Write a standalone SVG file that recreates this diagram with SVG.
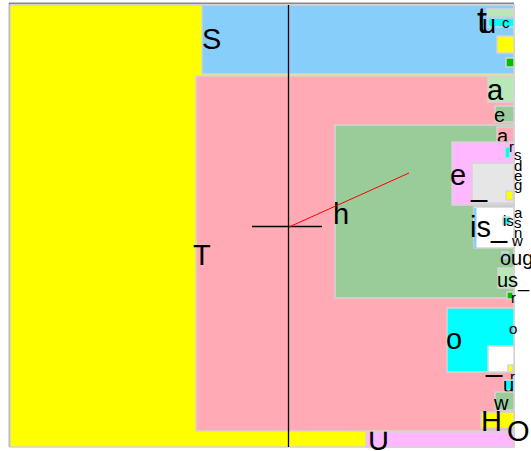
<svg xmlns="http://www.w3.org/2000/svg" width="531" height="451" viewBox="0 0 531 451">
<style>
.r{stroke:#d4d4d4;stroke-width:1.5}
.t{font-family:"Liberation Sans",Arial,sans-serif;fill:#000}
.big{font-size:29px}
.mid{font-size:20px}
.sm{font-size:15px}
</style>
<rect x="0" y="0" width="531" height="451" fill="#fff"/>
<rect x="10" y="5" width="504" height="442" fill="#dcdcdc"/>
<g id="root-frame">
<line x1="9" y1="3.5" x2="514" y2="3.5" stroke="#888" stroke-width="2"/>
<line x1="9.5" y1="3" x2="9.5" y2="447" stroke="#777" stroke-width="1.5"/>
</g>
<g id="node-U">
<rect class="r" x="10" y="5" width="504" height="442" fill="#ffff00"/>
<rect class="r" x="366" y="432" width="148" height="15" fill="#ffb8ff"/>
<text class="t big" x="368" y="450">U</text>
</g>
<g id="node-S">
<rect class="r" x="202" y="5" width="312" height="69" fill="#87cefa"/>
<text class="t big" x="202" y="49">S</text>
</g>
<g id="node-t">
<rect class="r" x="487" y="9" width="27" height="7" fill="#b8e8b8"/>
<rect class="r" x="488" y="18" width="26" height="9" fill="#00ffff"/>
<rect class="r" x="497" y="36" width="17" height="17" fill="#ffff00"/>
<rect class="r" x="506" y="58" width="8" height="9" fill="#00c000"/>
<text class="t" style="font-size:36px" x="477" y="33">t</text>
<text class="t" style="font-size:25px" x="482" y="33">u</text>
<text class="t sm" x="502" y="28">c</text>
</g>
<g id="node-T">
<rect class="r" x="196" y="76" width="318" height="355" fill="#ffaab5"/>
<text class="t big" x="193" y="265">T</text>
</g>
<g id="node-a">
<rect class="r" x="488" y="77" width="26" height="25" fill="#b8e8b8"/>
<text class="t big" x="487" y="100">a</text>
<rect class="r" x="495" y="106" width="19" height="16" fill="#99cc99"/>
<text class="t mid" x="494" y="122">e</text>
</g>
<g id="node-h">
<rect class="r" x="335" y="125" width="179" height="173" fill="#99cc99"/>
<text class="t big" x="333" y="224">h</text>
<rect class="r" x="497" y="127" width="17" height="16" fill="#ffaab5"/>
<text class="t mid" x="497" y="143">a</text>
</g>
<g id="node-e">
<rect class="r" x="452" y="142" width="62" height="63" fill="#ffb8ff"/>
<rect class="r" x="472" y="163" width="42" height="40" fill="#e6e6e6"/>
<rect class="r" x="506" y="191" width="7" height="9" fill="#ffff00"/>
<rect class="r" x="505" y="147" width="5" height="11" fill="#00ffff"/>
<text class="t big" x="450" y="185">e</text>
<text class="t big" x="471" y="196">_</text>
<text class="t sm" x="509" y="152">r</text>
<text class="t sm" x="514" y="160">s</text>
<text class="t sm" x="514" y="171">d</text>
<text class="t sm" x="514" y="181">e</text>
<text class="t sm" x="514" y="190">g</text>
</g>
<g id="node-is">
<rect class="r" x="474" y="207" width="40" height="41" fill="#fff"/>
<rect x="474" y="208" width="2.5" height="40" fill="#87cefa"/>
<rect class="r" x="503" y="217" width="7" height="8" fill="#00ffff"/>
<text class="t big" x="470" y="237">is_</text>
<text class="t sm" x="503" y="226">is</text>
<text class="t sm" x="514" y="218">a</text>
<text class="t sm" x="514" y="228">s</text>
<text class="t sm" x="514" y="238">n</text>
<text class="t sm" x="512" y="246">w</text>
</g>
<g id="node-oug">
<rect class="r" x="502" y="252" width="6" height="6" fill="#87cefa"/>
<text class="t mid" x="500" y="265">oug</text>
<rect class="r" x="498" y="268" width="16" height="20" fill="#b8e8b8"/>
<text class="t mid" x="497" y="287">us_</text>
<rect class="r" x="507" y="292" width="6" height="7" fill="#00c000"/>
<text class="t sm" x="511" y="303">r</text>
</g>
<g id="node-o">
<rect class="r" x="447" y="308" width="67" height="64" fill="#00ffff"/>
<rect class="r" x="488" y="346" width="26" height="26" fill="#fff"/>
<rect class="r" x="508" y="365" width="5" height="7" fill="#ffff00"/>
<text class="t big" x="446" y="349">o</text>
<text class="t sm" x="509" y="334">o</text>
<text class="t big" x="486" y="371">_</text>
<text class="t sm" x="510" y="382">r</text>
</g>
<g id="node-w">
<rect class="r" x="504" y="380" width="10" height="10" fill="#00ffff"/>
<text class="t mid" x="503" y="392">u</text>
<rect class="r" x="495" y="392" width="19" height="18" fill="#99cc99"/>
<text class="t mid" x="494" y="410">w</text>
<rect class="r" x="481" y="412" width="33" height="16" fill="#ffff00"/>
<text class="t big" x="481" y="431">H</text>
<text class="t big" x="507" y="441">O</text>
</g>
<g id="connectors">
<line x1="288.5" y1="5" x2="288.5" y2="447" stroke="#000" stroke-width="1.3"/>
<line x1="252" y1="226.5" x2="322" y2="226.5" stroke="#000" stroke-width="1.3"/>
<line x1="289" y1="227" x2="409" y2="173" stroke="#ff0000" stroke-width="1"/>
</g>
</svg>
